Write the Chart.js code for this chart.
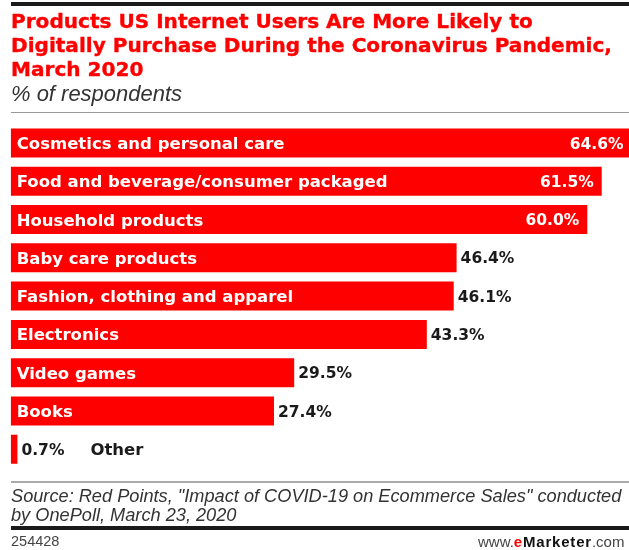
<!DOCTYPE html>
<html><head><meta charset="utf-8">
<script src="https://cdn.jsdelivr.net/npm/chart.js@4/dist/chart.umd.min.js"></script>
<style>
html,body{margin:0;padding:0;width:629px;height:550px;overflow:hidden;background:#fff;}
#wrap{position:relative;width:629px;height:550px;overflow:hidden;}
canvas{position:absolute;left:0;top:0;}
.t{position:absolute;white-space:nowrap;}
.rule{position:absolute;left:11px;width:640px;}
#title{left:11px;top:9px;font-family:'DejaVu Sans';font-weight:bold;font-size:19.6px;line-height:24px;color:#ff0000;-webkit-text-stroke:0.35px #ff0000;}
#title span{display:inline-block;}
#sub{left:11px;top:83px;font-family:'Liberation Sans';font-style:italic;font-size:21px;line-height:21px;color:#333;}
#src{left:11px;top:486.5px;font-family:'Liberation Sans';font-style:italic;font-size:16px;line-height:19.3px;color:#333;}
#src span{display:inline-block;}
#id{left:11px;top:534px;font-family:'Liberation Sans';font-size:14.5px;line-height:14.5px;color:#444;}
#brand{left:478px;top:533.5px;font-family:'Liberation Sans';font-size:15px;line-height:15px;color:#444;}
#brand b{color:#111;letter-spacing:0.8px;}
#brand .e{color:#ff0000;font-weight:bold;letter-spacing:0.8px;}
</style></head><body>
<div id="wrap">
<canvas id="c" width="640" height="550" style="width:640px;height:550px"></canvas>
<div class="rule" style="top:2px;height:4px;background:#1a1a1a"></div>
<div id="title" class="t"><span>Products US Internet Users Are More Likely to</span><br><span id="tl2">Digitally Purchase During the Coronavirus Pandemic,</span><br><span>March 2020</span></div>
<div id="sub" class="t">% of respondents</div>
<div class="rule" style="top:111.5px;height:1px;background:#999"></div>
<div class="rule" style="top:481px;height:2px;background:#aaa"></div>
<div id="src" class="t"><span id="sl1">Source: Red Points, "Impact of COVID-19 on Ecommerce Sales" conducted</span><br><span>by OnePoll, March 23, 2020</span></div>
<div class="rule" style="top:526px;height:4px;background:#1a1a1a"></div>
<div id="id" class="t">254428</div>
<div id="brand" class="t">www.<span class="e">e</span><b>Marketer</b>.com</div>
</div>
<script>
// ---- data ----
const categories = [
  "Cosmetics and personal care",
  "Food and beverage/consumer packaged",
  "Household products",
  "Baby care products",
  "Fashion, clothing and apparel",
  "Electronics",
  "Video games",
  "Books",
  "Other"
];
const values = [64.6, 61.5, 60.0, 46.4, 46.1, 43.3, 29.5, 27.4, 0.7];
const valueSuffix = "%";

// ---- styling ----
const RED = '#ff0000';
const LABEL_SIZE = 16.5;
const VALUE_SIZE = 15.5;
const LABEL_FONT = 'bold ' + LABEL_SIZE + 'px "DejaVu Sans"';
const VALUE_FONT = 'bold ' + VALUE_SIZE + 'px "DejaVu Sans"';
const INSIDE_VALUE_MIN = 50;

function fit(el, target) {
  const w = el.getBoundingClientRect().width;
  const host = el.parentElement.classList.contains('t') ? el.parentElement : el;
  const fs = parseFloat(getComputedStyle(host).fontSize);
  host.style.fontSize = (fs * target / w) + 'px';
}
fit(document.getElementById('tl2'), 601);
fit(document.getElementById('sub'), 171);
fit(document.getElementById('sl1'), 611);

const labelPlugin = {
  id: 'barLabels',
  afterDatasetsDraw(chart) {
    const ctx = chart.ctx;
    const meta = chart.getDatasetMeta(0);
    meta.data.forEach((bar, i) => {
      const v = values[i];
      const x0 = bar.base, x1 = bar.x, y = bar.y;
      ctx.save();
      ctx.textBaseline = 'alphabetic';
      ctx.font = LABEL_FONT;
      const lw = ctx.measureText(categories[i]).width;
      ctx.font = VALUE_FONT;
      const vt = v.toFixed(1) + valueSuffix;
      const vw = ctx.measureText(vt).width;
      const vy = y + VALUE_SIZE * 0.729 / 2;
      const ly = y + LABEL_SIZE * 0.729 / 2;
      let vEnd;
      if (v >= INSIDE_VALUE_MIN) {
        ctx.fillStyle = '#ffffff';
        ctx.textAlign = 'right';
        ctx.fillText(vt, x1 - 8, vy);
        vEnd = x1;
      } else {
        ctx.fillStyle = '#1a1a1a';
        ctx.textAlign = 'left';
        ctx.fillText(vt, x1 + 4, vy);
        vEnd = x1 + 4 + vw;
      }
      ctx.font = LABEL_FONT;
      ctx.textAlign = 'left';
      if (x1 - x0 >= lw + 14) {
        ctx.fillStyle = '#ffffff';
        ctx.fillText(categories[i], x0 + 6, ly);
      } else {
        ctx.fillStyle = '#1a1a1a';
        ctx.fillText(categories[i], vEnd + 26, ly);
      }
      ctx.restore();
    });
  }
};

new Chart(document.getElementById('c').getContext('2d'), {
  type: 'bar',
  data: {
    labels: categories,
    datasets: [{
      data: values,
      backgroundColor: RED,
      borderWidth: 0,
      barPercentage: 0.757,
      categoryPercentage: 1
    }]
  },
  options: {
    indexAxis: 'y',
    responsive: false,
    animation: false,
    devicePixelRatio: 1,
    layout: { padding: { left: 10.7, right: 4.65, top: 123.75, bottom: 81.55 } },
    scales: {
      x: { display: false, min: 0, max: 65 },
      y: { display: false }
    },
    plugins: { legend: { display: false }, tooltip: { enabled: false }, title: { display: false } }
  },
  plugins: [labelPlugin]
});
</script>
</body></html>
